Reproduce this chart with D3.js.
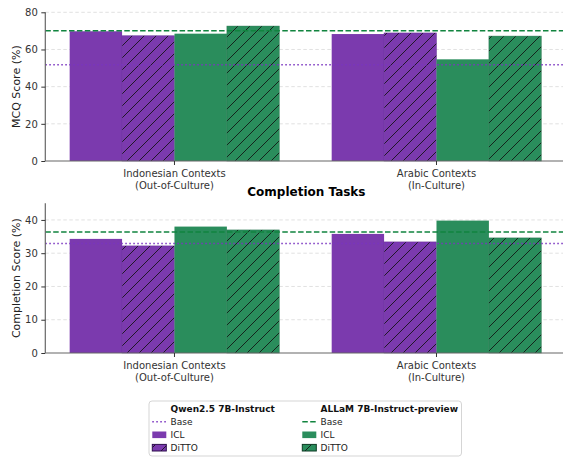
<!DOCTYPE html>
<html>
<head>
<meta charset="utf-8">
<script src="https://cdn.jsdelivr.net/npm/d3@7"></script>
<style>
  html, body { margin: 0; padding: 0; background: #fff; }
  svg { display: block; font-family: "DejaVu Sans", sans-serif; }
</style>
</head>
<body>
<svg id="chart" width="563" height="459"></svg>
<script>
// Categories (two-line tick labels)
const categories = [
  ["Indonesian Contexts", "(Out-of-Culture)"],
  ["Arabic Contexts", "(In-Culture)"]
];

// MCQ scores (%)
const mcqQwenICL    = [69.8, 68.3];
const mcqQwenDiTTO  = [67.4, 68.9];
const mcqAllamICL   = [68.5, 54.7];
const mcqAllamDiTTO = [72.6, 67.2];
const mcqQwenBase   = 51.8;
const mcqAllamBase  = 70.1;

// Completion scores (%)
const compQwenICL    = [34.3, 35.8];
const compQwenDiTTO  = [32.2, 33.4];
const compAllamICL   = [38.0, 39.8];
const compAllamDiTTO = [37.0, 34.6];
const compQwenBase   = 32.9;
const compAllamBase  = 36.4;

// Axis ticks
const mcqTicks  = [0, 20, 40, 60, 80];
const compTicks = [0, 10, 20, 30, 40];

const PURPLE = "#7b3aae";
const GREEN  = "#2a8d5c";
const PURPLE_LINE = "#7a35c0";
const GREEN_LINE  = "#11843f";

const svg = d3.select("#chart");
const defs = svg.append("defs");

// Diagonal "/" hatch patterns
function hatch(id, fill) {
  const s = 12;
  const p = defs.append("pattern")
    .attr("id", id)
    .attr("patternUnits", "userSpaceOnUse")
    .attr("width", s).attr("height", s);
  p.append("rect").attr("width", s).attr("height", s).attr("fill", fill);
  p.append("path")
    .attr("d", `M0,${s} L${s},0 M${-s/2},${s/2} L${s/2},${-s/2} M${s/2},${s*1.5} L${s*1.5},${s/2}`)
    .attr("stroke", "#111").attr("stroke-width", 0.85);
}
hatch("hatchPurple", PURPLE);
hatch("hatchGreen", GREEN);

const x = d3.scaleLinear().domain([-0.493, 1.5]).range([45.3, 567.5]);
const barW = 0.2;

function panel(cfg) {
  const y = d3.scaleLinear().domain(cfg.domain).range([cfg.bottom, cfg.top]);
  const g = svg.append("g");

  // grid
  g.selectAll("line.grid").data(cfg.ticks.filter(t => t > 0)).enter()
    .append("line")
    .attr("x1", x.range()[0]).attr("x2", x.range()[1])
    .attr("y1", d => y(d)).attr("y2", d => y(d))
    .attr("stroke", "#d9d9d9").attr("stroke-width", 0.8)
    .attr("stroke-dasharray", "3.5,2.5");

  const series = [
    { vals: cfg.qICL,   fill: PURPLE, edge: null },
    { vals: cfg.qDiTTO, fill: "url(#hatchPurple)", edge: "#5a2590" },
    { vals: cfg.aICL,   fill: GREEN, edge: null },
    { vals: cfg.aDiTTO, fill: "url(#hatchGreen)", edge: "#1c6b44" }
  ];
  series.forEach((s, si) => {
    const off = (si - 1.5) * barW;
    g.selectAll(null).data(s.vals).enter()
      .append("rect")
      .attr("x", (d, i) => x(i + off - barW / 2))
      .attr("width", x(barW) - x(0))
      .attr("y", d => y(d))
      .attr("height", d => y(0) - y(d))
      .attr("fill", s.fill)
      .attr("stroke", s.edge || "none")
      .attr("stroke-width", 0.6)
      .attr("stroke-opacity", 0.7);
  });

  // baselines
  g.append("line")
    .attr("x1", x.range()[0]).attr("x2", x.range()[1])
    .attr("y1", y(cfg.qBase)).attr("y2", y(cfg.qBase))
    .attr("stroke", PURPLE_LINE).attr("stroke-width", 1.5)
    .attr("stroke-dasharray", "1.5,2.5");
  g.append("line")
    .attr("x1", x.range()[0]).attr("x2", x.range()[1])
    .attr("y1", y(cfg.aBase)).attr("y2", y(cfg.aBase))
    .attr("stroke", GREEN_LINE).attr("stroke-width", 1.5)
    .attr("stroke-dasharray", "5.5,2.4");

  // y axis
  const yAxis = d3.axisLeft(y).tickValues(cfg.ticks).tickSize(4).tickPadding(3.5);
  const ya = g.append("g").attr("transform", `translate(${x.range()[0]},0)`).call(yAxis);
  ya.attr("font-family", "DejaVu Sans");
  ya.select(".domain").attr("stroke", "#666").attr("stroke-width", 1.2)
    .attr("d", `M0,${y.range()[1]}V${y.range()[0]}`);
  ya.selectAll(".tick line").attr("stroke", "#333").attr("stroke-width", 1);
  ya.selectAll(".tick text").attr("font-size", 10).attr("fill", "#333");

  // x axis
  const xa = g.append("g").attr("transform", `translate(0,${y(0)})`);
  xa.append("line").attr("x1", x.range()[0]).attr("x2", x.range()[1])
    .attr("stroke", "#666").attr("stroke-width", 1.2);
  categories.forEach((c, i) => {
    xa.append("line").attr("x1", x(i)).attr("x2", x(i)).attr("y1", 0).attr("y2", 4)
      .attr("stroke", "#333");
    const t = xa.append("text").attr("text-anchor", "middle")
      .attr("font-size", 10).attr("fill", "#333");
    c.forEach((line, li) => {
      t.append("tspan").attr("x", x(i)).attr("y", 16.3 + li * 11.8).text(line);
    });
  });

  // y label
  svg.append("text")
    .attr("transform", `translate(19.8,${(cfg.top + cfg.bottom) / 2}) rotate(-90)`)
    .attr("text-anchor", "middle").attr("font-size", 11).attr("fill", "#222")
    .text(cfg.label);

  if (cfg.title) {
    svg.append("text").attr("x", (x.range()[0] + x.range()[1]) / 2).attr("y", cfg.top - 7.3)
      .attr("text-anchor", "middle").attr("font-size", 12).attr("font-weight", "bold")
      .attr("fill", "#000").text(cfg.title);
  }
}

panel({
  domain: [0, 80], top: 12.3, bottom: 161, ticks: mcqTicks,
  qICL: mcqQwenICL, qDiTTO: mcqQwenDiTTO, aICL: mcqAllamICL, aDiTTO: mcqAllamDiTTO,
  qBase: mcqQwenBase, aBase: mcqAllamBase, label: "MCQ Score (%)"
});
panel({
  domain: [0, 45], top: 203.3, bottom: 353, ticks: compTicks,
  qICL: compQwenICL, qDiTTO: compQwenDiTTO, aICL: compAllamICL, aDiTTO: compAllamDiTTO,
  qBase: compQwenBase, aBase: compAllamBase, label: "Completion Score (%)",
  title: "Completion Tasks"
});

// Legend
const lg = svg.append("g");
lg.append("rect").attr("x", 149).attr("y", 401).attr("width", 312.5).attr("height", 55)
  .attr("rx", 3).attr("fill", "#fff").attr("stroke", "#d0d0d0").attr("stroke-width", 0.9);

const legendCols = [
  { x: 152.3, title: "Qwen2.5 7B-Instruct", line: PURPLE_LINE, dash: "1.5,2.5",
    fill: PURPLE, hatch: "url(#hatchPurple)", edge: "#2e0f4f" },
  { x: 302.3, title: "ALLaM 7B-Instruct-preview", line: GREEN_LINE, dash: "5.5,2.4",
    fill: GREEN, hatch: "url(#hatchGreen)", edge: "#0d3b24" }
];
const rowY = [409, 421.7, 434.8, 447.7];
legendCols.forEach(c => {
  const tx = c.x + 18.3;
  lg.append("text").attr("x", tx).attr("y", rowY[0] + 3.3).attr("font-size", 9)
    .attr("font-weight", "bold").attr("fill", "#111").text(c.title);
  lg.append("line").attr("x1", c.x).attr("x2", c.x + 14).attr("y1", rowY[1]).attr("y2", rowY[1])
    .attr("stroke", c.line).attr("stroke-width", 1.5).attr("stroke-dasharray", c.dash);
  lg.append("text").attr("x", tx).attr("y", rowY[1] + 3.3).attr("font-size", 9)
    .attr("fill", "#222").text("Base");
  lg.append("rect").attr("x", c.x).attr("y", rowY[2] - 3.3).attr("width", 14).attr("height", 6.6)
    .attr("fill", c.fill);
  lg.append("text").attr("x", tx).attr("y", rowY[2] + 3.3).attr("font-size", 9)
    .attr("fill", "#222").text("ICL");
  lg.append("rect").attr("x", c.x).attr("y", rowY[3] - 3.3).attr("width", 14).attr("height", 6.6)
    .attr("fill", c.hatch).attr("stroke", c.edge).attr("stroke-width", 1);
  lg.append("text").attr("x", tx).attr("y", rowY[3] + 3.3).attr("font-size", 9)
    .attr("fill", "#222").text("DiTTO");
});
</script>
</body>
</html>
